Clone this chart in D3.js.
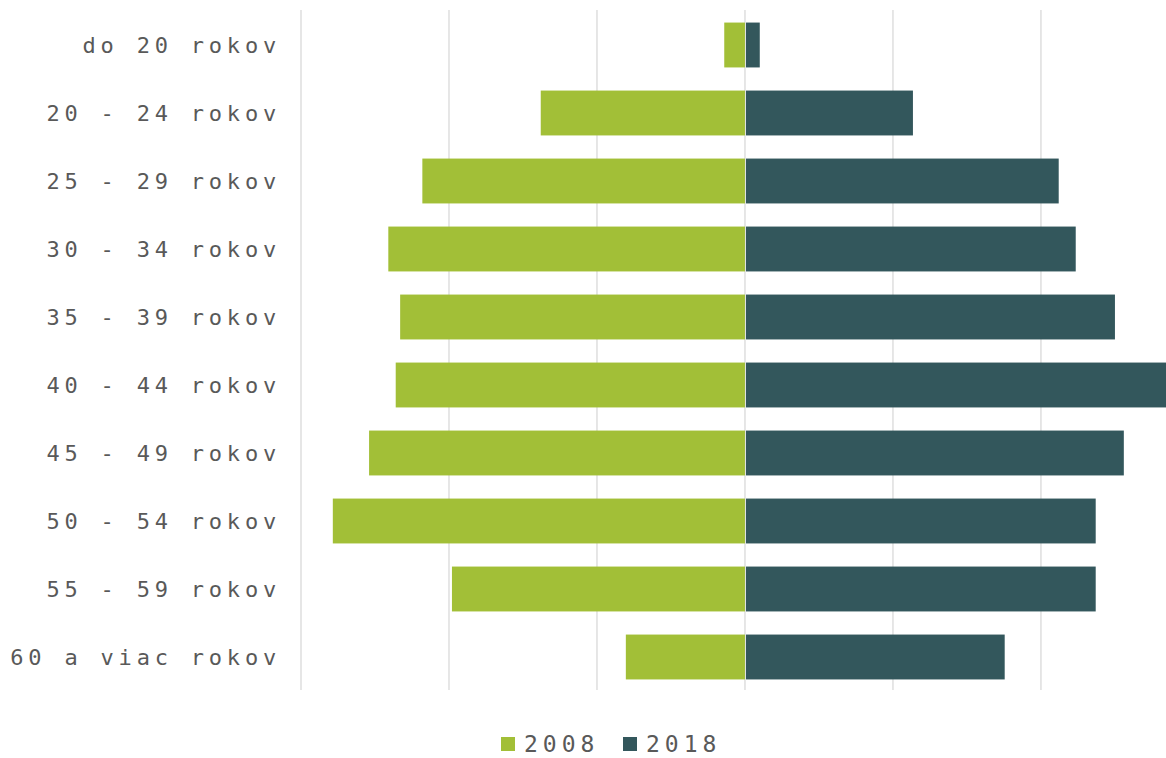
<!DOCTYPE html>
<html>
<head>
<meta charset="utf-8">
<script src="https://cdn.jsdelivr.net/npm/d3@7"></script>
<style>
  body { margin: 0; background: #fff; }
  text { font-family: "DejaVu Sans Mono", monospace; fill: #595959; }
</style>
</head>
<body>
<div id="chart"></div>
<script>
const categories = ["do 20 rokov", "20 - 24 rokov", "25 - 29 rokov", "30 - 34 rokov", "35 - 39 rokov",
    "40 - 44 rokov", "45 - 49 rokov", "50 - 54 rokov", "55 - 59 rokov", "60 a viac rokov"];
const values2008 = [0.28, 2.76, 4.36, 4.82, 4.66, 4.72, 5.08, 5.57, 3.96, 1.61];
const values2018 = [0.20, 2.27, 4.24, 4.47, 5.00, 5.75, 5.12, 4.74, 4.74, 3.51];
const gridTicks = [-6, -4, -2, 0, 2, 4];
const seriesNames = ["2008", "2018"];
const colors = ["#a2bf37", "#33575c"];

const W = 1166, H = 758;
const margins = { top: 11, bottom: 67, left: 301, right: 0 };

const svg = d3.select("#chart").append("svg")
    .attr("width", W)
    .attr("height", H);

const xScale = d3.scaleLinear()
    .domain([-6, 5.69])
    .range([margins.left, W - margins.right]);

const yScale = d3.scaleBand()
    .domain(categories)
    .range([margins.top, H - margins.bottom])
    .paddingInner(0.34)
    .paddingOuter(0.17);

// gridlines
svg.append("g")
    .selectAll("line")
    .data(gridTicks)
    .join("line")
    .attr("x1", d => xScale(d))
    .attr("x2", d => xScale(d))
    .attr("y1", 10)
    .attr("y2", 690)
    .attr("stroke", "#d9d9d9")
    .attr("stroke-width", 1.3);

svg.append("clipPath").attr("id", "clip")
    .append("rect")
    .attr("x", 0).attr("y", 0).attr("width", W).attr("height", H);

const bars = svg.append("g").attr("clip-path", "url(#clip)");

bars.selectAll(".b2008")
    .data(categories)
    .join("rect")
    .attr("class", "b2008")
    .attr("x", (d, i) => xScale(-values2008[i]))
    .attr("width", (d, i) => xScale(0) - xScale(-values2008[i]))
    .attr("y", d => yScale(d))
    .attr("height", yScale.bandwidth())
    .attr("fill", colors[0]);

bars.selectAll(".b2018")
    .data(categories)
    .join("rect")
    .attr("class", "b2018")
    .attr("x", xScale(0) + 1)
    .attr("width", (d, i) => xScale(values2018[i]) - xScale(0) - 1)
    .attr("y", d => yScale(d))
    .attr("height", yScale.bandwidth())
    .attr("fill", colors[1]);

// category labels
svg.append("g")
    .selectAll("text")
    .data(categories)
    .join("text")
    .attr("x", 281)
    .attr("y", d => yScale(d) + yScale.bandwidth() / 2)
    .attr("dy", "0.36em")
    .attr("text-anchor", "end")
    .style("font-size", "22px")
    .style("letter-spacing", "4.8px")
    .text(d => d);

// legend
const legend = svg.append("g");
const legendX = [501, 623];
seriesNames.forEach((name, i) => {
    legend.append("rect")
        .attr("x", legendX[i])
        .attr("y", 737)
        .attr("width", 14)
        .attr("height", 14)
        .attr("fill", colors[i]);
    legend.append("text")
        .attr("x", legendX[i] + 23)
        .attr("y", 744)
        .attr("dy", "0.36em")
        .style("font-size", "23px")
        .style("letter-spacing", "5px")
        .text(name);
});
</script>
</body>
</html>
